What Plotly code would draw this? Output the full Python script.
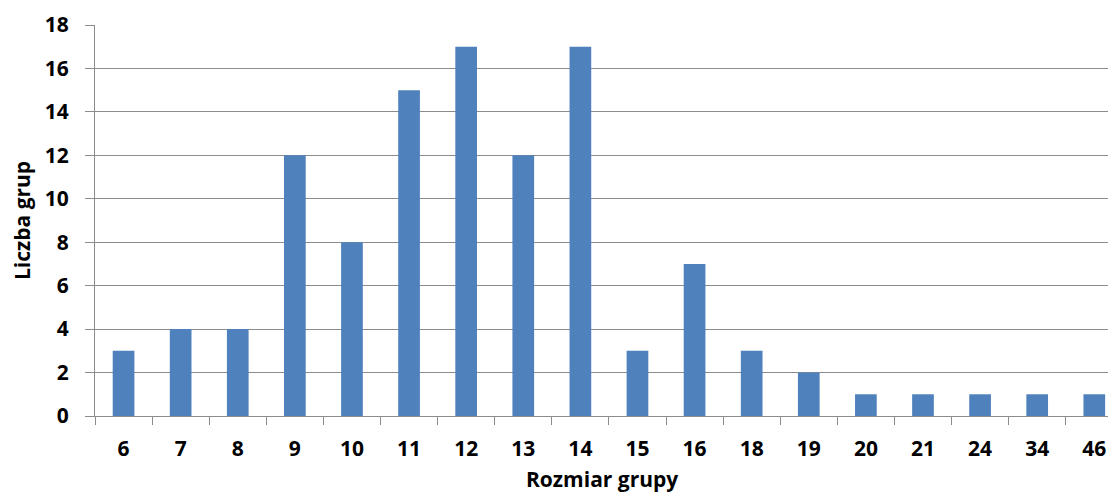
import plotly.graph_objects as go

categories = ["6", "7", "8", "9", "10", "11", "12", "13", "14", "15", "16", "18", "19", "20", "21", "24", "34", "46"]
counts = [3, 4, 4, 12, 8, 15, 17, 12, 17, 3, 7, 3, 2, 1, 1, 1, 1, 1]
y_ticks = list(range(0, 19, 2))
x_title = "Rozmiar grupy"
y_title = "Liczba grup"

font_family = "Open Sans, Lato, DejaVu Sans, sans-serif"

fig = go.Figure(
    go.Bar(
        x=categories,
        y=counts,
        marker=dict(color="#4F81BD", line=dict(width=0)),
    )
)

# page body has an 8px default margin, so the figure is sized to fill the rest
fig.update_layout(
    width=1100,
    height=485,
    margin=dict(l=87, r=0, t=17, b=77, autoexpand=False),
    paper_bgcolor="white",
    plot_bgcolor="white",
    bargap=0.62,
    showlegend=False,
    font=dict(family=font_family, color="black"),
    annotations=[
        dict(
            text=x_title,
            xref="paper",
            yref="paper",
            x=0.5,
            y=-0.16,
            xanchor="center",
            yanchor="middle",
            showarrow=False,
            font=dict(size=21, family=font_family, weight=700, color="black"),
        )
    ],
)

fig.update_xaxes(
    type="category",
    range=[-0.5, 17.24],
    automargin=False,
    tickson="boundaries",
    ticks="outside",
    ticklen=8,
    tickcolor="#8c8c8c",
    tickwidth=1,
    showline=True,
    linecolor="#8c8c8c",
    linewidth=1,
    showgrid=False,
    tickfont=dict(size=21, family=font_family, weight=700),
    ticklabelstandoff=14,
)

fig.update_yaxes(
    range=[0, 18],
    automargin=False,
    tickvals=y_ticks,
    ticks="outside",
    ticklen=9,
    tickcolor="#8c8c8c",
    tickwidth=1,
    showline=True,
    linecolor="#8c8c8c",
    linewidth=1,
    showgrid=True,
    gridcolor="#8c8c8c",
    gridwidth=1,
    zeroline=False,
    tickfont=dict(size=21, family=font_family, weight=700),
    ticklabelstandoff=12,
    title=dict(
        text=y_title,
        font=dict(size=21, family=font_family, weight=700),
        standoff=8,
    ),
)

fig.write_html("out.html")
